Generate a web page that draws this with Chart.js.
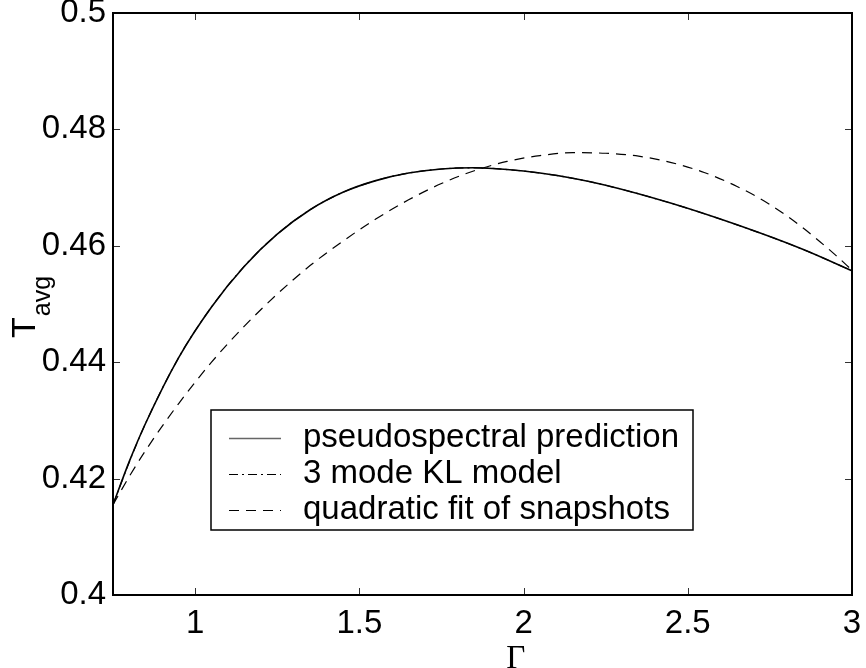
<!DOCTYPE html>
<html>
<head>
<meta charset="utf-8">
<script src="https://cdn.jsdelivr.net/npm/chart.js@4/dist/chart.umd.min.js"></script>
<style>
  html, body { margin: 0; padding: 0; background: #fff; }
  #wrap { width: 866px; height: 668px; }
</style>
</head>
<body>
<div id="wrap"><canvas id="c" width="866" height="668"></canvas></div>
<script>
// Average temperature versus Gamma
const gammaModel = [0.75, 0.80, 0.85, 0.95, 1.05, 1.15, 1.25, 1.35, 1.45, 1.55, 1.65, 1.75, 1.85, 1.95, 2.05, 2.15, 2.25, 2.45, 2.65, 2.85, 3.00];
const pseudospectral = [0.4155, 0.4230, 0.4296, 0.4408, 0.4495, 0.4565, 0.4620, 0.4662, 0.4692, 0.4712, 0.4725, 0.4732, 0.4734, 0.4731, 0.4725, 0.4716, 0.4704, 0.4673, 0.4636, 0.4594, 0.4557];
const klModel3 = [0.4155, 0.4229, 0.4296, 0.4408, 0.4495, 0.4565, 0.4620, 0.4662, 0.4692, 0.4712, 0.4725, 0.4732, 0.4734, 0.4731, 0.4725, 0.4716, 0.4704, 0.4673, 0.4636, 0.4594, 0.4557];

const gammaFit = [0.75, 0.80, 0.85, 0.95, 1.05, 1.15, 1.25, 1.35, 1.45, 1.55, 1.65, 1.75, 1.85, 1.95, 2.05, 2.15, 2.25, 2.35, 2.45, 2.55, 2.65, 2.75, 2.85, 2.95, 3.00];
const quadraticFit = [0.4155, 0.4204, 0.4249, 0.4329, 0.4400, 0.4462, 0.4517, 0.4566, 0.4608, 0.4646, 0.4679, 0.4707, 0.4729, 0.4745, 0.4755, 0.4760, 0.4759, 0.4754, 0.4743, 0.4726, 0.4702, 0.4671, 0.4631, 0.4584, 0.4558];

const xTicks = [1, 1.5, 2, 2.5, 3];
const yTicks = [0.4, 0.42, 0.44, 0.46, 0.48, 0.5];
const xTickLabels = ['1', '1.5', '2', '2.5', '3'];
const yTickLabels = ['0.4', '0.42', '0.44', '0.46', '0.48', '0.5'];

const seriesLabels = ['pseudospectral prediction', '3 mode KL model', 'quadratic fit of snapshots'];

const FONT = '"Liberation Sans", Arial, Helvetica, sans-serif';

function toPoints(xs, ys) { return xs.map((x, i) => ({ x: x, y: ys[i] })); }

// Frame, inward tick marks, axis titles and the boxed legend
const decorations = {
  id: 'decorations',
  afterDraw(chart) {
    const ctx = chart.ctx;
    const { left, right, top, bottom } = chart.chartArea;
    const xs = chart.scales.x, ys = chart.scales.y;
    ctx.save();
    ctx.strokeStyle = '#333';
    ctx.lineWidth = 1;
    ctx.beginPath();
    xs.ticks.forEach(t => {
      const px = Math.round(xs.getPixelForValue(t.value)) + 0.5;
      ctx.moveTo(px, bottom); ctx.lineTo(px, bottom - 7);
      ctx.moveTo(px, top); ctx.lineTo(px, top + 7);
    });
    ys.ticks.forEach(t => {
      const py = Math.round(ys.getPixelForValue(t.value)) + 0.5;
      ctx.moveTo(left, py); ctx.lineTo(left + 7, py);
      ctx.moveTo(right, py); ctx.lineTo(right - 7, py);
    });
    ctx.stroke();

    ctx.strokeStyle = '#000';
    ctx.lineWidth = 2;
    ctx.strokeRect(left, top, right - left, bottom - top);

    // y title: T with subscript avg
    ctx.fillStyle = '#000';
    ctx.save();
    ctx.translate(35, 338);
    ctx.rotate(-Math.PI / 2);
    ctx.textAlign = 'left';
    ctx.textBaseline = 'alphabetic';
    ctx.font = '34px ' + FONT;
    ctx.fillText('T', 0, 0);
    const tw = ctx.measureText('T').width;
    ctx.font = '25px ' + FONT;
    ctx.fillText('avg', tw + 1, 15);
    ctx.restore();

    // x title
    ctx.font = '33px "Liberation Serif", "DejaVu Serif", serif';
    ctx.textAlign = 'center';
    ctx.textBaseline = 'alphabetic';
    ctx.fillText('\u0393', left + 0.545 * (right - left), 668);

    // legend
    const lx = 211, ly = 410, lw = 482, lh = 120;
    ctx.fillStyle = '#fff';
    ctx.fillRect(lx, ly, lw, lh);
    ctx.strokeStyle = '#000';
    ctx.lineWidth = 1.5;
    ctx.strokeRect(lx, ly, lw, lh);
    const rows = [438, 474, 510];
    chart.data.datasets.forEach(ds => {
      const ry = rows[ds.legendRow];
      ctx.save();
      ctx.strokeStyle = ds.legendRow === 0 ? '#666' : '#000';
      ctx.lineWidth = ds.legendRow === 0 ? 1.5 : 1;
      ctx.setLineDash(ds.borderDash || []);
      ctx.beginPath();
      ctx.moveTo(229, ry + 0.5);
      ctx.lineTo(281, ry + 0.5);
      ctx.stroke();
      ctx.restore();
      ctx.fillStyle = '#000';
      ctx.font = '33px ' + FONT;
      ctx.textAlign = 'left';
      ctx.textBaseline = 'middle';
      ctx.fillText(ds.label, 303, ry);
    });
    ctx.restore();
  }
};

new Chart(document.getElementById('c'), {
  type: 'scatter',
  data: {
    datasets: [
      {
        label: seriesLabels[2], legendRow: 2,
        data: toPoints(gammaFit, quadraticFit),
        showLine: true, borderColor: '#000', borderWidth: 1.2,
        borderDash: [10, 7], pointRadius: 0, cubicInterpolationMode: 'monotone'
      },
      {
        label: seriesLabels[0], legendRow: 0,
        data: toPoints(gammaModel, pseudospectral),
        showLine: true, borderColor: '#000', borderWidth: 1.6,
        pointRadius: 0, cubicInterpolationMode: 'monotone'
      },
      {
        label: seriesLabels[1], legendRow: 1,
        data: toPoints(gammaModel, klModel3),
        showLine: true, borderColor: '#000', borderWidth: 1.2,
        borderDash: [9, 4, 2, 4], pointRadius: 0, cubicInterpolationMode: 'monotone'
      }
    ]
  },
  options: {
    responsive: false,
    animation: false,
    events: [],
    layout: { padding: { left: 0, right: 14, top: 13, bottom: 0 } },
    plugins: { legend: { display: false }, tooltip: { enabled: false } },
    scales: {
      x: {
        type: 'linear', min: 0.75, max: 3,
        grid: { display: false, drawTicks: false },
        border: { display: false },
        afterBuildTicks: s => { s.ticks = xTicks.map(v => ({ value: v })); },
        afterFit: s => { s.height = 73; s.paddingLeft = 0; s.paddingRight = 0; },
        ticks: {
          color: '#000', padding: 9, maxRotation: 0, autoSkip: false,
          font: { family: FONT, size: 33 },
          callback: v => xTickLabels[xTicks.indexOf(v)]
        }
      },
      y: {
        type: 'linear', min: 0.4, max: 0.5,
        grid: { display: false, drawTicks: false },
        border: { display: false },
        afterBuildTicks: s => { s.ticks = yTicks.map(v => ({ value: v })); },
        afterFit: s => { s.width = 113; s.paddingTop = 0; s.paddingBottom = 0; },
        ticks: {
          color: '#000', padding: 7, autoSkip: false,
          font: { family: FONT, size: 33 },
          callback: v => yTickLabels[yTicks.findIndex(t => Math.abs(t - v) < 1e-9)]
        }
      }
    }
  },
  plugins: [decorations]
});
</script>
</body>
</html>
